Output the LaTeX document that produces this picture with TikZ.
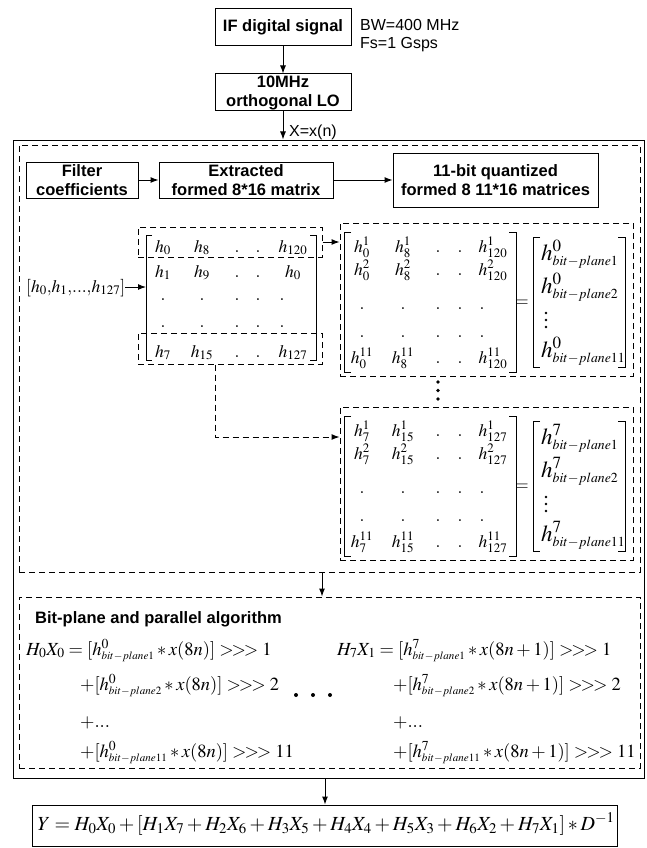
\documentclass[tikz,border=0pt]{standalone}
\usepackage{mathptmx}
\usepackage[no-math]{fontspec}
\setmainfont{Liberation Sans}
\usetikzlibrary{arrows.meta}
\newcommand\lblfont{\fontsize{16.5}{19}\selectfont\bfseries}
\newcommand\txtfont{\fontsize{16}{18}\selectfont}
\newcommand\mfont{\fontsize{17.5}{19}\selectfont}
\newcommand\vfont{\fontsize{23}{25}\selectfont}
\newcommand\efont{\fontsize{18.5}{21}\selectfont}
\newcommand\yfont{\fontsize{20}{22}\selectfont}
\newcommand\bpl[1]{\scriptscriptstyle bit-plane#1}
\newcommand\shr{\mathrel{{>}\mkern-2mu{>}\mkern-2mu{>}}}
\tikzset{
  box/.style={draw, line width=1pt, align=center, inner sep=0pt, font=\lblfont},
  dbox/.style={draw, dash pattern=on 6pt off 4pt, line width=1pt, inner sep=0pt},
  arr/.style={-{Latex[length=8pt,width=6pt]}, line width=1pt},
  darr/.style={arr, dash pattern=on 6pt off 4pt},
  brk/.style={line width=1pt},
  me/.style={inner sep=0pt, font=\mfont, anchor=base},
  ve/.style={inner sep=0pt, font=\vfont, anchor=base west},
  eq/.style={inner sep=0pt, font=\efont, anchor=base west},
  txt/.style={inner sep=0pt, font=\txtfont, anchor=base west},
  dotc/.style={fill=black, draw=none},
}
\newcommand\rmat[5]{%
  \draw[brk] (351,232) -- (344,232) -- (344,372) -- (351,372);
  \draw[brk] (509,232) -- (516,232) -- (516,372) -- (509,372);
  \foreach \yy/\ss/\rr in {252/1/1, 275/2/2, 363/{11}/5}{
    \node[me] (#1-\rr-1) at (362,\yy) {$h_{#2}^{\ss}$};
    \node[me] (#1-\rr-2) at (403,\yy) {$h_{#3}^{\ss}$};
    \node[me] (#1-\rr-3) at (438,\yy) {$.$};
    \node[me] (#1-\rr-4) at (460,\yy) {$.$};
    \node[me] (#1-\rr-5) at (493,\yy) {$h_{#4}^{\ss}$};
  }
  \foreach \yy/\rr in {309/3, 337/4}{
    \foreach \xx/\cc in {362/1, 403/2, 438/3, 460/4, 482/5}{
      \node[me] (#1-\rr-\cc) at (\xx,\yy) {$.$};
    }
  }
  \node[me, anchor=center] (#1-eq) at (522,303) {$=$};
  \draw[brk] (540,237) -- (533,237) -- (533,367) -- (540,367);
  \draw[brk] (618,237) -- (625,237) -- (625,367) -- (618,367);
  \node[ve] (#1-v1) at (541,260) {$h^{#5}_{\bpl{1}}$};
  \node[ve] (#1-v2) at (541,293) {$h^{#5}_{\bpl{2}}$};
  \fill[dotc] (546,313) circle (1.3pt) (546,320) circle (1.3pt) (546,327) circle (1.3pt);
  \node[ve] (#1-v3) at (541,357) {$h^{#5}_{\bpl{11}}$};
}
\begin{document}
\begin{tikzpicture}[x=1pt, y=-1pt]
\useasboundingbox (0,0) rectangle (646,848);

% top chain
\node[box, minimum width=136pt, minimum height=37pt] (if) at (283,27.5) {IF digital signal};
\node[txt] (bw) at (360,31) {BW=400 MHz};
\node[txt] (fs) at (360,49) {Fs=1 Gsps};
\node[box, minimum width=136pt, minimum height=37pt] (lo) at (283,92.5) {10MHz\\orthogonal LO};

% containers
\node[draw, line width=1pt, minimum width=631pt, minimum height=638pt, inner sep=0pt] (outer) at (328.5,459) {};
\node[dbox, minimum width=621pt, minimum height=427pt] (dash1) at (329.5,358.5) {};
\node[dbox, minimum width=621pt, minimum height=171pt] (dash2) at (329.5,682.5) {};

\draw[arr] (if.south) -- (lo.north);
\draw[arr] (lo.south) -- (lo.south |- outer.north);
\node[txt] (xn) at (289,136) {X=x(n)};

% process boxes
\node[box, minimum width=112pt, minimum height=36pt] (filt) at (82,180) {Filter\\coefficients};
\node[box, minimum width=174pt, minimum height=36pt] (extr) at (246,180) {Extracted\\formed 8*16 matrix};
\node[box, minimum width=205pt, minimum height=54pt] (quant) at (495.5,180) {11-bit quantized\\formed 8 11*16 matrices};
\draw[arr] (filt.east) -- (extr.west);
\draw[arr] (extr.east) -- (quant.west);

% coefficient vector and 8x16 matrix
\node[inner sep=0pt, font=\mfont, anchor=base west] (hvec) at (26,292) {$[h_0{,}h_1{,}...{,}h_{127}]$};
\coordinate (m1l) at (146,287);
\draw[arr] (hvec.east |- m1l) -- (m1l);
\draw[brk] (152,235) -- (146,235) -- (146,360) -- (152,360);
\draw[brk] (310,235) -- (316,235) -- (316,360) -- (310,360);
\foreach \yy/\a/\b/\c/\r in {252/h_0/h_8/h_{120}/1, 277/h_1/h_9/h_0/2, 357/h_7/h_{15}/h_{127}/5}{
  \node[me] (ma-\r-1) at (163,\yy) {$\a$};
  \node[me] (ma-\r-2) at (202,\yy) {$\b$};
  \node[me] (ma-\r-3) at (237,\yy) {$.$};
  \node[me] (ma-\r-4) at (258,\yy) {$.$};
  \node[me] (ma-\r-5) at (293,\yy) {$\c$};
}
\foreach \yy/\r in {300/3, 327/4}{
  \foreach \xx/\cc in {163/1, 202/2, 237/3, 258/4, 282/5}{
    \node[me] (ma-\r-\cc) at (\xx,\yy) {$.$};
  }
}
\node[dbox, minimum width=184pt, minimum height=30pt] (m1top) at (230,242) {};
\node[dbox, minimum width=184pt, minimum height=31pt] (m1bot) at (230,348.5) {};

% bit-plane matrices
\node[dbox, minimum width=293pt, minimum height=153pt] (r1) at (486.5,299.5) {};
\node[dbox, minimum width=293pt, minimum height=153pt] (r2) at (486.5,483.5) {};
\rmat{ra}{0}{8}{120}{0}
\begin{scope}[yshift=-184pt]
\rmat{rb}{7}{15}{127}{7}
\end{scope}
\fill[dotc] (438,382) circle (1.8pt) (438,390.5) circle (1.8pt) (438,399) circle (1.8pt);

\draw[arr] (m1top.east) -- (m1top.east -| r1.west);
\coordinate (dc) at (215,437);
\draw[darr] (dc |- m1bot.south) -- (dc) -- (dc -| r2.west);

% arrow to bit-plane algorithm
\coordinate (a2) at (322,585);
\draw[arr] (a2 |- dash1.south) -- (a2 |- dash2.north);

\node[inner sep=0pt, font=\lblfont, anchor=base west] (bpt) at (35,623) {Bit-plane and parallel algorithm};
\node[eq] (e1) at (26,655) {$H_0X_0=[h^{0}_{\bpl{1}}*x(8n)]\shr 1$};
\node[eq] (e2) at (80,690) {$+[h^{0}_{\bpl{2}}*x(8n)]\shr 2$};
\node[eq] (e3) at (80,727) {$+...$};
\node[eq] (e4) at (80,757) {$+[h^{0}_{\bpl{11}}*x(8n)]\shr 11$};
\fill[dotc] (296,695) circle (2pt) (313,695) circle (2pt) (330,695) circle (2pt);
\node[eq] (f1) at (337,655) {$H_7X_1=[h^{7}_{\bpl{1}}*x(8n+1)]\shr 1$};
\node[eq] (f2) at (393,690) {$+[h^{7}_{\bpl{2}}*x(8n+1)]\shr 2$};
\node[eq] (f3) at (393,727) {$+...$};
\node[eq] (f4) at (393,757) {$+[h^{7}_{\bpl{11}}*x(8n+1)]\shr 11$};

% output
\node[draw, line width=1pt, minimum width=585pt, minimum height=41pt, inner sep=0pt] (ybox) at (324.5,825.5) {};
\node[inner sep=0pt, font=\yfont, anchor=base] (yeq) at (326,830) {$Y=H_0X_0+[H_1X_7+H_2X_6+H_3X_5+H_4X_4+H_5X_3+H_6X_2+H_7X_1]*D^{-1}$};
\coordinate (a3) at (325,790);
\draw[arr] (a3 |- outer.south) -- (a3 |- ybox.north);
\end{tikzpicture}
\end{document}
